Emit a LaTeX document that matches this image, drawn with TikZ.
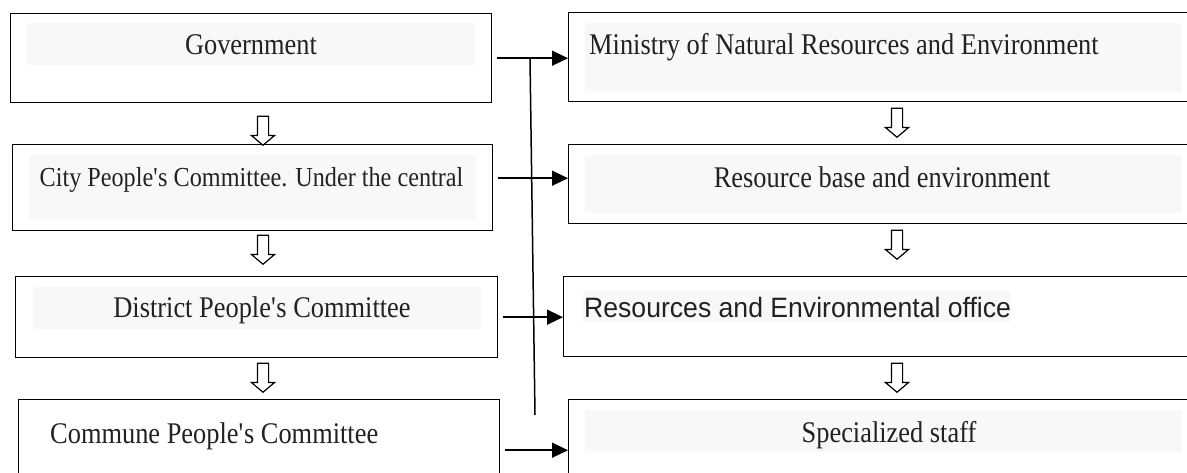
\documentclass[tikz,border=0pt]{standalone}
\usepackage{fontspec}
\setmainfont{Liberation Serif}[FakeStretch=0.88]
\newfontfamily\officefont{Liberation Sans}[FakeStretch=0.95]
\usepackage{tikz}
\usetikzlibrary{shapes.arrows, arrows.meta, positioning, calc}
\definecolor{stripgray}{RGB}{247, 248, 250}
\definecolor{textdark}{RGB}{34, 34, 34}

\begin{document}
\begin{tikzpicture}[
  x=1pt, y=-1pt,
  box/.style={rectangle, draw=black, line width=1.4pt, inner sep=0pt, anchor=north west},
  strip/.style={rectangle, fill=stripgray, inner sep=0pt, anchor=north west},
  boxtext/.style={font=\fontsize{30}{36}\selectfont, text=textdark, inner sep=0pt, anchor=base},
  hollow/.style={single arrow, shape border rotate=270, draw=black, fill=white, line width=1.2pt,
                 inner sep=5pt, single arrow head extend=6pt, single arrow tip angle=100,
                 minimum height=29pt, anchor=tip},
  arrow/.style={-{Triangle[length=16pt, width=15pt]}, line width=1.6pt, shorten <=5pt}
]
\clip (0,0) rectangle (1187,473);

% Left column
\node[box, minimum width=481pt, minimum height=89pt] (gov) at (10,13) {};
\node[box, minimum width=480pt, minimum height=86pt] (city) at (12,144) {};
\node[box, minimum width=482pt, minimum height=81pt] (dist) at (15,276) {};
\node[box, minimum width=481pt, minimum height=101pt] (comm) at (18,399) {};

\node[strip, minimum width=448pt, minimum height=42pt] (govstrip) at (27,23) {};
\node[strip, minimum width=447pt, minimum height=65pt] (citystrip) at (29,155) {};
\node[strip, minimum width=448pt, minimum height=42pt] (diststrip) at (33,287) {};

\node[boxtext] (govtext) at (251,55) {Government};
\node[boxtext, font=\fontsize{27.5}{33}\selectfont] (citytext) at (251.5,187) {City People\textquotesingle s Committee. Under the central};
\node[boxtext] (disttext) at (262,318) {District People\textquotesingle s Committee};
\node[boxtext, anchor=base west] (commtext) at (50,443) {Commune People\textquotesingle s Committee};

% Right column
\node[box, minimum width=640pt, minimum height=89pt] (min) at (568,12) {};
\node[box, minimum width=640pt, minimum height=79pt] (res) at (568,144) {};
\node[box, minimum width=645pt, minimum height=80pt] (off) at (563,276) {};
\node[box, minimum width=640pt, minimum height=101pt] (spec) at (568,399) {};

\node[strip, minimum width=597pt, minimum height=69pt] (minstrip) at (585,23) {};
\node[strip, minimum width=597pt, minimum height=58pt] (resstrip) at (585,155) {};
\node[strip, minimum width=428pt, minimum height=31pt] (offstrip) at (583,291) {};
\node[strip, minimum width=597pt, minimum height=42pt] (specstrip) at (585,410) {};

\node[boxtext, anchor=base west] (mintext) at (589,55) {Ministry of Natural Resources and Environment};
\node[boxtext] (restext) at (882,188) {Resource base and environment};
\node[boxtext, anchor=base west, font=\officefont\fontsize{28}{34}\selectfont] (offtext) at (584,317) {Resources and Environmental office};
\node[boxtext] (spectext) at (889,442) {Specialized staff};

% Hollow arrows
\node[hollow] (lh1) at (263,146) {};
\node[hollow] (lh2) at (263,265) {};
\node[hollow] (lh3) at (263,393) {};
\node[hollow] (rh1) at (897,138) {};
\node[hollow] (rh2) at (897,260) {};
\node[hollow] (rh3) at (897,393) {};

% Arrows
\draw[arrow] (gov.east) -- (gov.east -| min.west);
\draw[arrow] ([yshift=9.5pt]city.east) -- ([yshift=9.5pt]city.east -| res.west);
\draw[arrow] (dist.east) -- (dist.east -| off.west);
\draw[arrow] (comm.east) -- (comm.east -| spec.west);

\coordinate (vtop) at (530,58);
\coordinate (vbot) at (535,415);
\draw[line width=1.5pt] (vtop) -- (vbot);

\end{tikzpicture}
\end{document}
